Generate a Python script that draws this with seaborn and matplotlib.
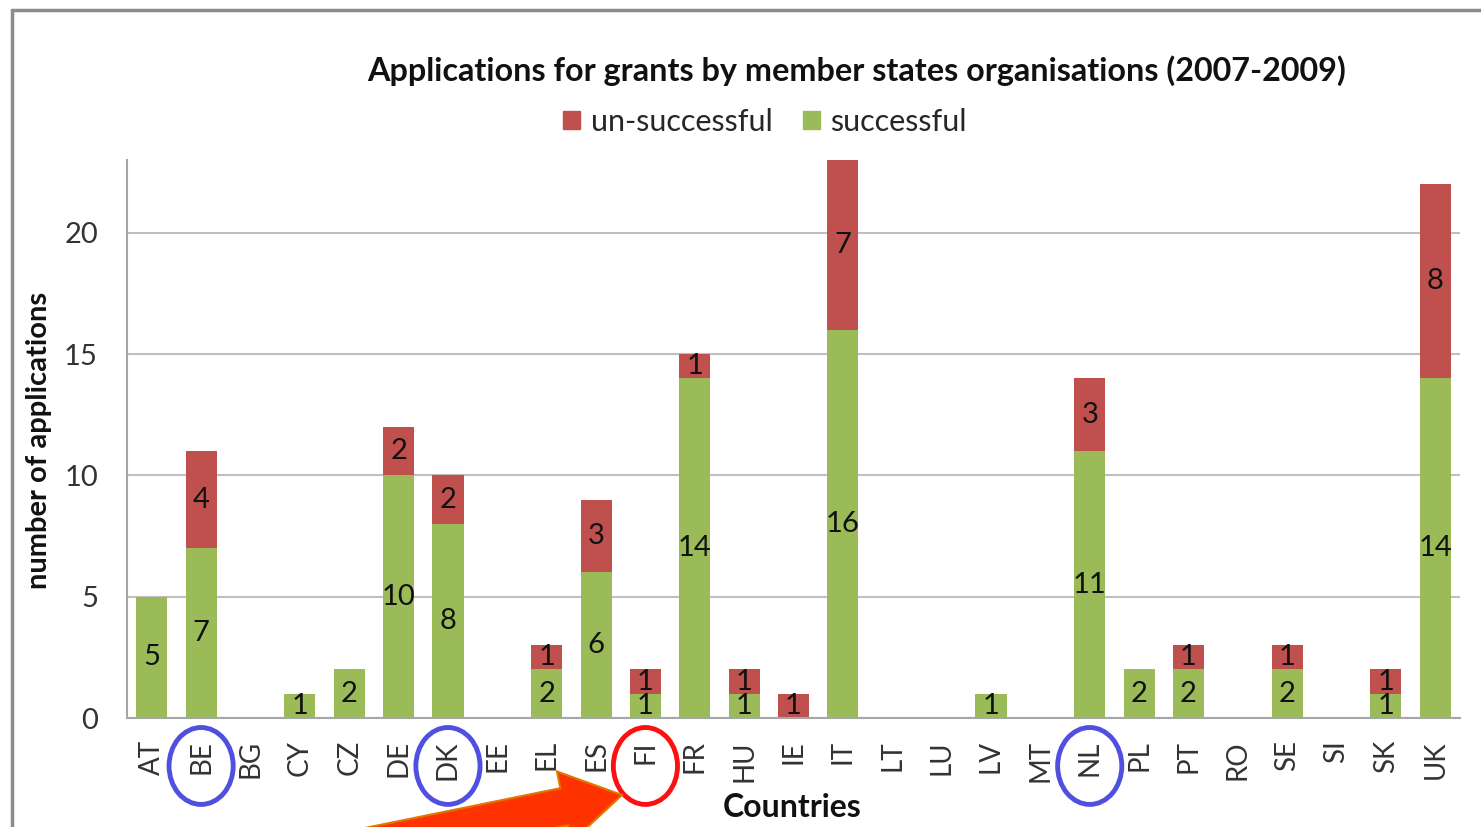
import seaborn as sns
import matplotlib.pyplot as plt
from matplotlib.patches import Ellipse, FancyArrow
from matplotlib.lines import Line2D
from matplotlib.transforms import blended_transform_factory, IdentityTransform

# data
countries = ['AT', 'BE', 'BG', 'CY', 'CZ', 'DE', 'DK', 'EE', 'EL', 'ES', 'FI', 'FR', 'HU', 'IE',
             'IT', 'LT', 'LU', 'LV', 'MT', 'NL', 'PL', 'PT', 'RO', 'SE', 'SI', 'SK', 'UK']
successful = [5, 7, 0, 1, 2, 10, 8, 0, 2, 6, 1, 14, 1, 0, 16, 0, 0, 1, 0, 11, 2, 2, 0, 2, 0, 1, 14]
unsuccessful = [0, 4, 0, 0, 0, 2, 2, 0, 1, 3, 1, 1, 1, 1, 7, 0, 0, 0, 0, 3, 0, 1, 0, 1, 0, 1, 8]
circled_blue = ['BE', 'DK', 'NL']
circled_red = ['FI']

totals = [s + u for s, u in zip(successful, unsuccessful)]

green = '#9BBB59'
red = '#C0504D'

sns.set_style('white')
plt.rcParams['font.family'] = ['Lato', 'DejaVu Sans']

fig = plt.figure(figsize=(14.81, 8.27), dpi=100)
ax = fig.add_axes([0.0858, 0.1318, 0.9, 0.6747])

# stacked bars: total in red, successful drawn over it in green
sns.barplot(x=countries, y=totals, color=red, width=0.63, linewidth=0, saturation=1, ax=ax)
sns.barplot(x=countries, y=successful, color=green, width=0.63, linewidth=0, saturation=1, ax=ax)

for i, (s, u) in enumerate(zip(successful, unsuccessful)):
    if s:
        ax.text(i, s / 2, str(s), ha='center', va='center', fontsize=21, color='#111111')
    if u:
        ax.text(i, s + u / 2, str(u), ha='center', va='center', fontsize=21, color='#111111')

ax.set_xlim(-0.5, len(countries) - 0.5)
ax.set_ylim(0, 23)
ax.set_yticks([0, 5, 10, 15, 20])
ax.yaxis.grid(True, color='#BFBFBF', lw=1.5)
ax.set_axisbelow(True)
for side in ['top', 'right']:
    ax.spines[side].set_visible(False)
for side in ['left', 'bottom']:
    ax.spines[side].set_color('#A6A6A6')
    ax.spines[side].set_linewidth(1.5)

ax.set_xticks(range(len(countries)))
ax.set_xticklabels(countries, rotation=90, fontsize=20, color='#333333')
ax.set_xticks([i - 0.5 for i in range(len(countries) + 1)], minor=True)
ax.tick_params(axis='x', which='major', length=0, pad=16)
ax.tick_params(axis='x', which='minor', length=9, width=1.5, color='#A6A6A6')
ax.tick_params(axis='y', length=9, width=1.5, color='#A6A6A6', labelsize=21, labelcolor='#333333', pad=12)
ax.set_xlabel('')
ax.set_ylabel('')

fig.text(0.5787, 0.915, 'Applications for grants by member states organisations (2007-2009)',
         ha='center', va='center', fontsize=23.3, fontweight='bold', color='#111111')
fig.text(0.026, 0.468, 'number of applications', rotation=90, ha='center', va='center',
         fontsize=21, fontweight='bold', color='#111111')
fig.text(0.535, 0.023, 'Countries', ha='center', va='center', fontsize=23,
         fontweight='bold', color='#111111')

handles = [plt.Rectangle((0, 0), 1, 1, color=red), plt.Rectangle((0, 0), 1, 1, color=green)]
fig.legend(handles, ['un-successful', 'successful'], loc='center', bbox_to_anchor=(0.5165, 0.8525),
           ncol=2, frameon=False, fontsize=22, handlelength=0.55, handleheight=0.55,
           handletextpad=0.35, columnspacing=1.0)

# annotation circles around some country labels
tr = blended_transform_factory(ax.transData, fig.transFigure)
for name in circled_blue + circled_red:
    col = '#5050E0' if name in circled_blue else '#FF1010'
    e = Ellipse((countries.index(name), 0.0738), 1.3, 0.093, transform=tr, fill=False,
                edgecolor=col, lw=3.5, clip_on=False)
    ax.add_patch(e)

# big arrow pointing at FI
fig.patches.append(FancyArrow(308, -32, 314, 64, width=38, head_width=72, head_length=59,
                              length_includes_head=True, facecolor='#FF3300', edgecolor='#E07800',
                              lw=1.5, transform=IdentityTransform(), figure=fig))

# frame around the picture
fig.add_artist(Line2D([0.008, 1.0], [0.988, 0.988], color='#8C8C8C', lw=2.5))
fig.add_artist(Line2D([0.008, 0.008], [0.0, 0.988], color='#8C8C8C', lw=2.5))

fig.savefig('out.png', dpi=100)
